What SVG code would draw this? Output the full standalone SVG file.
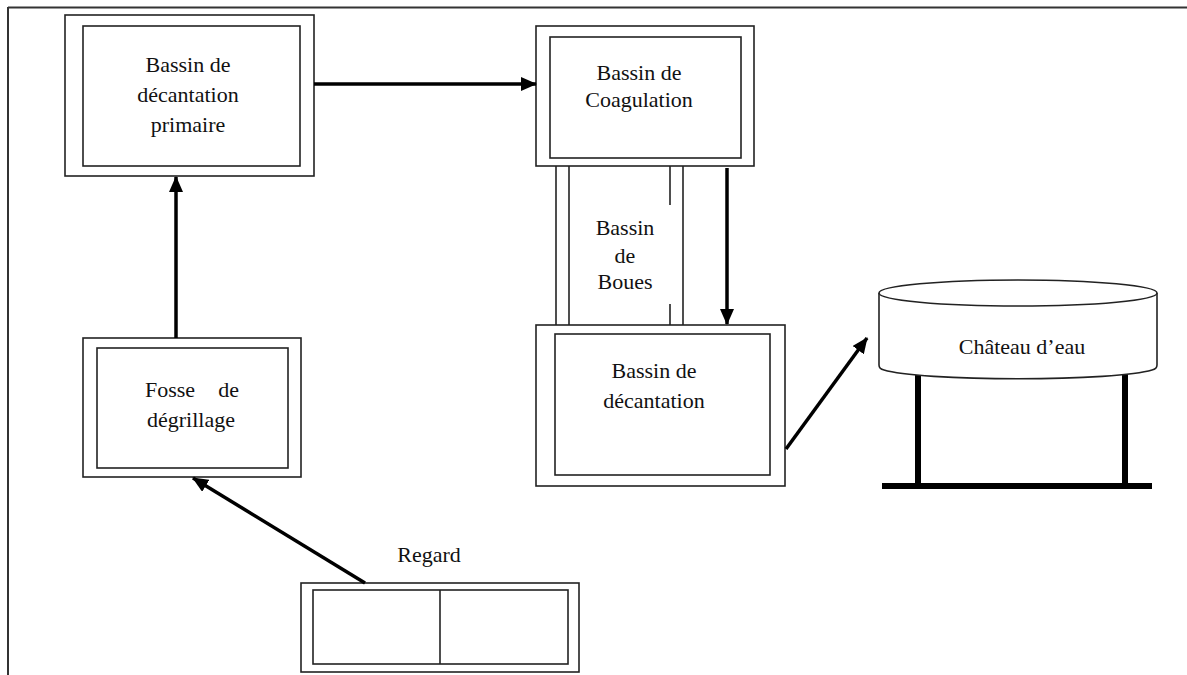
<svg xmlns="http://www.w3.org/2000/svg" width="1187" height="675" viewBox="0 0 1187 675">
<defs>
<style>
.box{fill:#fff;stroke:#222;stroke-width:1.6}
.ln{stroke:#222;stroke-width:1.6;fill:none}
.arr{stroke:#000;stroke-width:3.5;fill:none}
.t{font-family:"Liberation Serif","Times New Roman",serif;font-size:22px;fill:#111;text-anchor:middle}
</style>
<marker id="ah" markerUnits="userSpaceOnUse" viewBox="0 0 16 14" refX="15" refY="7" markerWidth="16" markerHeight="14" orient="auto">
<path d="M0,0 L16,7 L0,14 Z" fill="#000"/>
</marker>
</defs>
<rect width="1187" height="675" fill="#fff"/>
<g id="frame">
<line x1="8" y1="7.5" x2="1187" y2="7.5" stroke="#333" stroke-width="2"/>
<line x1="8" y1="7" x2="8" y2="675" stroke="#333" stroke-width="2"/>
</g>
<g id="primaire">
<rect class="box" x="65" y="15" width="249" height="161"/>
<rect class="box" x="83" y="26" width="217" height="140"/>
<text class="t" x="188" y="72">Bassin de</text>
<text class="t" x="188" y="102">décantation</text>
<text class="t" x="188" y="132">primaire</text>
</g>
<g id="coagulation">
<rect class="box" x="536" y="26" width="218" height="140"/>
<rect class="box" x="550" y="37" width="191" height="121"/>
<text class="t" x="639" y="80">Bassin de</text>
<text class="t" x="639" y="107">Coagulation</text>
</g>
<g id="boues">
<line class="ln" x1="556" y1="166" x2="556" y2="325"/>
<line class="ln" x1="569" y1="166" x2="569" y2="325"/>
<line class="ln" x1="670" y1="166" x2="670" y2="205"/>
<line class="ln" x1="670" y1="304" x2="670" y2="325"/>
<line class="ln" x1="683" y1="166" x2="683" y2="325"/>
<text class="t" x="625" y="235">Bassin</text>
<text class="t" x="625" y="263">de</text>
<text class="t" x="625" y="289">Boues</text>
</g>
<g id="decantation">
<rect class="box" x="536" y="325" width="249" height="161"/>
<rect class="box" x="555" y="334" width="215" height="141"/>
<text class="t" x="654" y="378">Bassin de</text>
<text class="t" x="654" y="408">décantation</text>
</g>
<g id="fosse">
<rect class="box" x="83" y="338" width="218" height="139"/>
<rect class="box" x="97" y="348" width="191" height="120"/>
<text class="t" x="145" y="397" style="text-anchor:start">Fosse</text>
<text class="t" x="239" y="397" style="text-anchor:end">de</text>
<text class="t" x="191" y="427">dégrillage</text>
</g>
<g id="regard">
<text class="t" x="429" y="562">Regard</text>
<rect class="box" x="301" y="583" width="278" height="89"/>
<rect class="box" x="313" y="590" width="255" height="74"/>
<line class="ln" x1="440" y1="590" x2="440" y2="664"/>
</g>
<g id="chateau">
<rect x="915" y="372" width="6" height="114" fill="#000"/>
<rect x="1122" y="372" width="6" height="114" fill="#000"/>
<rect x="882" y="483" width="270" height="6" fill="#000"/>
<path d="M879,293 V365 Q879,369 884,370 A139,12 0 0 0 1152,370 Q1157,369 1157,365 V293" fill="#fff" stroke="#222" stroke-width="1.6"/>
<ellipse cx="1018" cy="293" rx="139" ry="13" fill="#fff" stroke="#222" stroke-width="1.6"/>
<text class="t" x="1022" y="354">Château d’eau</text>
</g>
<g id="connectors">
<line class="arr" x1="314" y1="84" x2="536" y2="84" marker-end="url(#ah)"/>
<line class="arr" x1="176" y1="338" x2="176" y2="177" marker-end="url(#ah)"/>
<line class="arr" x1="727" y1="168" x2="727" y2="324" marker-end="url(#ah)"/>
<line class="arr" x1="786" y1="449" x2="867" y2="338" marker-end="url(#ah)"/>
<line class="arr" x1="365" y1="583" x2="193" y2="478" marker-end="url(#ah)"/>
</g>
</svg>
